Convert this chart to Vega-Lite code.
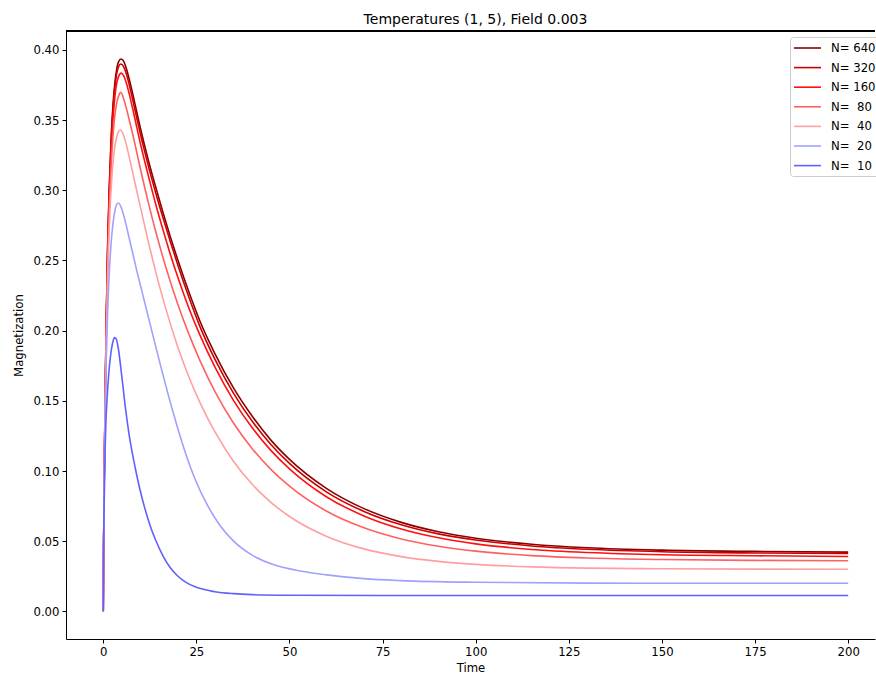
{
 "$schema": "https://vega.github.io/schema/vega-lite/v6.json",
 "width": 809,
 "height": 608,
 "autosize": {"type": "none"},
 "padding": {"left": 66, "top": 31, "right": 1, "bottom": 36},
 "background": "white",
 "config": {
  "font": "DejaVu Sans",
  "view": {"stroke": null},
  "axis": {"domainColor": "black", "domainWidth": 1, "tickColor": "black", "tickSize": 4, "tickWidth": 1, "labelColor": "black", "titleColor": "black", "labelFontSize": 11.7, "titleFontSize": 11.7, "titleFontWeight": "normal", "grid": false, "labelFont": "DejaVu Sans", "titleFont": "DejaVu Sans"}
 },
 "title": {"text": "Temperatures (1, 5), Field 0.003", "fontSize": 14, "fontWeight": "normal", "color": "black", "font": "DejaVu Sans", "offset": 4, "dx": 5},
 "data": {"values": [
  {"N":"640","t":0,"m":0},{"N":"640","t":0.1,"m":0.045},{"N":"640","t":0.3,"m":0.105},{"N":"640","t":0.5,"m":0.15},{"N":"640","t":0.8,"m":0.207},{"N":"640","t":1.2,"m":0.263},{"N":"640","t":1.6,"m":0.301},{"N":"640","t":2.1,"m":0.336},{"N":"640","t":2.6,"m":0.36},{"N":"640","t":3.1,"m":0.376},{"N":"640","t":3.6,"m":0.386},{"N":"640","t":4.1,"m":0.3915},{"N":"640","t":4.8,"m":0.3935},{"N":"640","t":5.5,"m":0.3918},{"N":"640","t":6.2,"m":0.3868},{"N":"640","t":7,"m":0.379},{"N":"640","t":8,"m":0.3677},{"N":"640","t":9,"m":0.3558},{"N":"640","t":10,"m":0.344},{"N":"640","t":12,"m":0.3225},{"N":"640","t":14,"m":0.303},{"N":"640","t":16,"m":0.2845},{"N":"640","t":18,"m":0.267},{"N":"640","t":20,"m":0.2505},{"N":"640","t":23,"m":0.2275},{"N":"640","t":26,"m":0.2065},{"N":"640","t":30,"m":0.1835},{"N":"640","t":35,"m":0.159},{"N":"640","t":40,"m":0.139},{"N":"640","t":45,"m":0.122},{"N":"640","t":50,"m":0.1083},{"N":"640","t":60,"m":0.0875},{"N":"640","t":70,"m":0.0732},{"N":"640","t":80,"m":0.0634},{"N":"640","t":90,"m":0.0567},{"N":"640","t":100,"m":0.0521},{"N":"640","t":115,"m":0.0478},{"N":"640","t":130,"m":0.0453},{"N":"640","t":150,"m":0.0436},{"N":"640","t":175,"m":0.0427},{"N":"640","t":200,"m":0.0422},
  {"N":"320","t":0,"m":0},{"N":"320","t":0.1,"m":0.045},{"N":"320","t":0.3,"m":0.105},{"N":"320","t":0.5,"m":0.15},{"N":"320","t":0.8,"m":0.206},{"N":"320","t":1.2,"m":0.261},{"N":"320","t":1.6,"m":0.298},{"N":"320","t":2.1,"m":0.333},{"N":"320","t":2.6,"m":0.357},{"N":"320","t":3.1,"m":0.373},{"N":"320","t":3.6,"m":0.383},{"N":"320","t":4.1,"m":0.388},{"N":"320","t":4.7,"m":0.39},{"N":"320","t":5.5,"m":0.388},{"N":"320","t":6.2,"m":0.383},{"N":"320","t":7,"m":0.375},{"N":"320","t":8,"m":0.3635},{"N":"320","t":9,"m":0.3515},{"N":"320","t":10,"m":0.3398},{"N":"320","t":12,"m":0.3185},{"N":"320","t":14,"m":0.299},{"N":"320","t":16,"m":0.2808},{"N":"320","t":18,"m":0.2635},{"N":"320","t":20,"m":0.247},{"N":"320","t":23,"m":0.2238},{"N":"320","t":26,"m":0.2027},{"N":"320","t":30,"m":0.1795},{"N":"320","t":35,"m":0.1553},{"N":"320","t":40,"m":0.1354},{"N":"320","t":45,"m":0.1189},{"N":"320","t":50,"m":0.1054},{"N":"320","t":60,"m":0.085},{"N":"320","t":70,"m":0.0712},{"N":"320","t":80,"m":0.0617},{"N":"320","t":90,"m":0.0552},{"N":"320","t":100,"m":0.0508},{"N":"320","t":115,"m":0.0466},{"N":"320","t":130,"m":0.0442},{"N":"320","t":150,"m":0.0425},{"N":"320","t":175,"m":0.0416},{"N":"320","t":200,"m":0.0412},
  {"N":"160","t":0,"m":0},{"N":"160","t":0.1,"m":0.045},{"N":"160","t":0.3,"m":0.104},{"N":"160","t":0.5,"m":0.148},{"N":"160","t":0.8,"m":0.203},{"N":"160","t":1.2,"m":0.256},{"N":"160","t":1.6,"m":0.293},{"N":"160","t":2.1,"m":0.326},{"N":"160","t":2.6,"m":0.35},{"N":"160","t":3.1,"m":0.366},{"N":"160","t":3.6,"m":0.376},{"N":"160","t":4.1,"m":0.381},{"N":"160","t":4.8,"m":0.3835},{"N":"160","t":5.5,"m":0.3815},{"N":"160","t":6.2,"m":0.3765},{"N":"160","t":7,"m":0.3685},{"N":"160","t":8,"m":0.357},{"N":"160","t":9,"m":0.345},{"N":"160","t":10,"m":0.333},{"N":"160","t":12,"m":0.3115},{"N":"160","t":14,"m":0.291},{"N":"160","t":16,"m":0.2722},{"N":"160","t":18,"m":0.2545},{"N":"160","t":20,"m":0.2382},{"N":"160","t":23,"m":0.216},{"N":"160","t":26,"m":0.1966},{"N":"160","t":30,"m":0.174},{"N":"160","t":35,"m":0.1502},{"N":"160","t":40,"m":0.1308},{"N":"160","t":45,"m":0.1147},{"N":"160","t":50,"m":0.1015},{"N":"160","t":60,"m":0.0815},{"N":"160","t":70,"m":0.068},{"N":"160","t":80,"m":0.0587},{"N":"160","t":90,"m":0.0524},{"N":"160","t":100,"m":0.0481},{"N":"160","t":115,"m":0.0441},{"N":"160","t":130,"m":0.0419},{"N":"160","t":150,"m":0.0403},{"N":"160","t":175,"m":0.0396},{"N":"160","t":200,"m":0.0391},
  {"N":"80","t":0,"m":0},{"N":"80","t":0.1,"m":0.045},{"N":"80","t":0.3,"m":0.103},{"N":"80","t":0.5,"m":0.146},{"N":"80","t":0.8,"m":0.199},{"N":"80","t":1.2,"m":0.25},{"N":"80","t":1.6,"m":0.285},{"N":"80","t":2.1,"m":0.316},{"N":"80","t":2.6,"m":0.338},{"N":"80","t":3.1,"m":0.353},{"N":"80","t":3.6,"m":0.362},{"N":"80","t":4.1,"m":0.367},{"N":"80","t":4.7,"m":0.3698},{"N":"80","t":5.5,"m":0.365},{"N":"80","t":6.2,"m":0.3585},{"N":"80","t":7,"m":0.35},{"N":"80","t":8,"m":0.339},{"N":"80","t":9,"m":0.327},{"N":"80","t":10,"m":0.315},{"N":"80","t":12,"m":0.2925},{"N":"80","t":14,"m":0.2715},{"N":"80","t":16,"m":0.2525},{"N":"80","t":18,"m":0.235},{"N":"80","t":20,"m":0.219},{"N":"80","t":23,"m":0.1975},{"N":"80","t":26,"m":0.1785},{"N":"80","t":30,"m":0.1565},{"N":"80","t":35,"m":0.134},{"N":"80","t":40,"m":0.1159},{"N":"80","t":45,"m":0.1012},{"N":"80","t":50,"m":0.0892},{"N":"80","t":60,"m":0.0713},{"N":"80","t":70,"m":0.0595},{"N":"80","t":80,"m":0.0516},{"N":"80","t":90,"m":0.0464},{"N":"80","t":100,"m":0.0429},{"N":"80","t":115,"m":0.0397},{"N":"80","t":130,"m":0.038},{"N":"80","t":150,"m":0.0369},{"N":"80","t":175,"m":0.0363},{"N":"80","t":200,"m":0.0361},
  {"N":"40","t":0,"m":0},{"N":"40","t":0.1,"m":0.045},{"N":"40","t":0.3,"m":0.102},{"N":"40","t":0.5,"m":0.143},{"N":"40","t":0.8,"m":0.192},{"N":"40","t":1.2,"m":0.24},{"N":"40","t":1.6,"m":0.272},{"N":"40","t":2.1,"m":0.3},{"N":"40","t":2.6,"m":0.319},{"N":"40","t":3.1,"m":0.331},{"N":"40","t":3.6,"m":0.338},{"N":"40","t":4.1,"m":0.342},{"N":"40","t":4.6,"m":0.343},{"N":"40","t":5.2,"m":0.341},{"N":"40","t":6,"m":0.3345},{"N":"40","t":7,"m":0.3235},{"N":"40","t":8,"m":0.3115},{"N":"40","t":9,"m":0.2995},{"N":"40","t":10,"m":0.2878},{"N":"40","t":12,"m":0.2645},{"N":"40","t":14,"m":0.2428},{"N":"40","t":16,"m":0.223},{"N":"40","t":18,"m":0.205},{"N":"40","t":20,"m":0.1885},{"N":"40","t":23,"m":0.167},{"N":"40","t":26,"m":0.1485},{"N":"40","t":30,"m":0.1278},{"N":"40","t":35,"m":0.1068},{"N":"40","t":40,"m":0.0905},{"N":"40","t":45,"m":0.0777},{"N":"40","t":50,"m":0.0676},{"N":"40","t":60,"m":0.0534},{"N":"40","t":70,"m":0.0445},{"N":"40","t":80,"m":0.039},{"N":"40","t":90,"m":0.0356},{"N":"40","t":100,"m":0.0335},{"N":"40","t":115,"m":0.0317},{"N":"40","t":130,"m":0.0308},{"N":"40","t":150,"m":0.0304},{"N":"40","t":175,"m":0.0301},{"N":"40","t":200,"m":0.03},
  {"N":"20","t":0,"m":0},{"N":"20","t":0.1,"m":0.045},{"N":"20","t":0.3,"m":0.098},{"N":"20","t":0.5,"m":0.135},{"N":"20","t":0.8,"m":0.178},{"N":"20","t":1.2,"m":0.215},{"N":"20","t":1.6,"m":0.24},{"N":"20","t":2.1,"m":0.262},{"N":"20","t":2.6,"m":0.276},{"N":"20","t":3.1,"m":0.285},{"N":"20","t":3.6,"m":0.29},{"N":"20","t":4.1,"m":0.291},{"N":"20","t":5,"m":0.2865},{"N":"20","t":6,"m":0.277},{"N":"20","t":7,"m":0.2655},{"N":"20","t":8.1,"m":0.253},{"N":"20","t":9,"m":0.2428},{"N":"20","t":10,"m":0.2322},{"N":"20","t":11,"m":0.2215},{"N":"20","t":12.6,"m":0.2045},{"N":"20","t":14,"m":0.1897},{"N":"20","t":15.5,"m":0.174},{"N":"20","t":17.1,"m":0.1578},{"N":"20","t":19,"m":0.1395},{"N":"20","t":20.5,"m":0.126},{"N":"20","t":22.5,"m":0.1095},{"N":"20","t":25,"m":0.092},{"N":"20","t":28,"m":0.0755},{"N":"20","t":31.4,"m":0.061},{"N":"20","t":35,"m":0.05},{"N":"20","t":40.3,"m":0.0395},{"N":"20","t":46,"m":0.033},{"N":"20","t":52.9,"m":0.0288},{"N":"20","t":60,"m":0.026},{"N":"20","t":70,"m":0.0233},{"N":"20","t":80,"m":0.0219},{"N":"20","t":100,"m":0.0207},{"N":"20","t":130,"m":0.0201},{"N":"20","t":160,"m":0.02},{"N":"20","t":200,"m":0.02},
  {"N":"10","t":0,"m":0},{"N":"10","t":0.1,"m":0.045},{"N":"10","t":0.3,"m":0.085},{"N":"10","t":0.5,"m":0.115},{"N":"10","t":0.7,"m":0.134},{"N":"10","t":1,"m":0.15},{"N":"10","t":1.5,"m":0.17},{"N":"10","t":2,"m":0.183},{"N":"10","t":2.5,"m":0.191},{"N":"10","t":3,"m":0.195},{"N":"10","t":3.5,"m":0.194},{"N":"10","t":4,"m":0.188},{"N":"10","t":5,"m":0.167},{"N":"10","t":6,"m":0.144},{"N":"10","t":7,"m":0.125},{"N":"10","t":8,"m":0.11},{"N":"10","t":9,"m":0.097},{"N":"10","t":9.9,"m":0.0863},{"N":"10","t":11,"m":0.075},{"N":"10","t":12,"m":0.066},{"N":"10","t":13,"m":0.058},{"N":"10","t":14,"m":0.0512},{"N":"10","t":16.1,"m":0.0392},{"N":"10","t":18,"m":0.031},{"N":"10","t":20,"m":0.0252},{"N":"10","t":22,"m":0.021},{"N":"10","t":25,"m":0.0171},{"N":"10","t":30,"m":0.014},{"N":"10","t":35,"m":0.0126},{"N":"10","t":40,"m":0.0119},{"N":"10","t":50,"m":0.0115},{"N":"10","t":75,"m":0.0113},{"N":"10","t":100,"m":0.0113},{"N":"10","t":150,"m":0.0113},{"N":"10","t":200,"m":0.0113}
 ]},
 "layer": [
  {
   "mark": {"type": "line", "strokeWidth": 1.6, "interpolate": "monotone", "clip": true},
   "encoding": {
    "x": {"field": "t", "type": "quantitative", "scale": {"domain": [-10, 207.2], "nice": false, "zero": false},
          "axis": {"values": [0, 25, 50, 75, 100, 125, 150, 175, 200], "format": "d", "title": "Time", "labelPadding": 3, "titlePadding": 5}},
    "y": {"field": "m", "type": "quantitative", "scale": {"domain": [-0.0197, 0.4135], "nice": false, "zero": false},
          "axis": {"values": [0, 0.05, 0.1, 0.15, 0.2, 0.25, 0.3, 0.35, 0.4], "format": ".2f", "title": "Magnetization", "labelPadding": 3, "titlePadding": 8}},
    "color": {"field": "N", "type": "nominal", "sort": null,
      "scale": {"domain": ["640", "320", "160", "80", "40", "20", "10"], "range": ["#8b0000", "#cc0000", "#ff1010", "#ff6060", "#ffa0a0", "#a0a0ff", "#6060ff"]},
      "legend": {"orient": "none", "legendX": 724, "legendY": 6, "title": null,
        "labelExpr": "'N=\u00a0' + (length(datum.label) < 3 ? '\u00a0' : '') + datum.label",
        "symbolType": "M-1,0H2.86", "symbolSize": 196, "symbolStrokeWidth": 1.6,
        "labelFontSize": 11.7, "labelColor": "black", "labelFont": "DejaVu Sans", "labelOffset": 22, "rowPadding": 4.6,
        "padding": 3, "strokeColor": "#cccccc", "fillColor": "rgba(255,255,255,0.8)", "cornerRadius": 3}}
   }
  },
  {
   "mark": {"type": "rule", "color": "black", "strokeWidth": 1},
   "encoding": {"y": {"datum": 0.4135}}
  }
 ]
}
